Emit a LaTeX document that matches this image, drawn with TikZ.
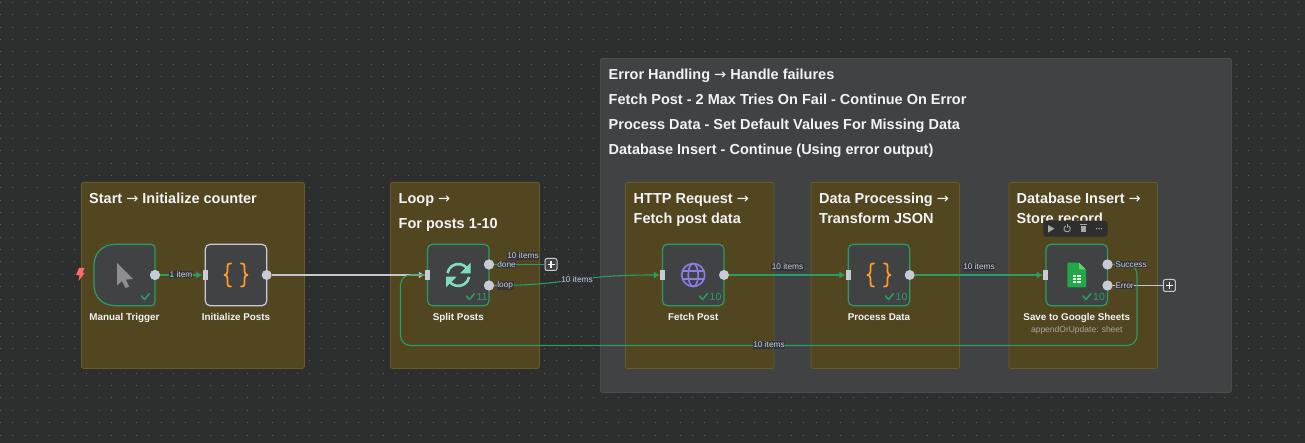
\documentclass[tikz,border=0pt]{standalone}
\usepackage{fontspec}
\setmainfont{Liberation Sans}
\newfontfamily\arrowfam{DejaVu Sans}
\usetikzlibrary{arrows.meta}
\definecolor{bgc}{HTML}{2D2E2E}
\definecolor{dotc}{HTML}{5C5D5D}
\definecolor{panelc}{HTML}{414244}
\definecolor{panelb}{HTML}{4A4B4D}
\definecolor{stickyc}{HTML}{524620}
\definecolor{stickyb}{HTML}{675A2C}
\definecolor{okc}{HTML}{2A9D63}
\definecolor{portc}{HTML}{C8CBD6}
\definecolor{wirec}{HTML}{C4C7D0}
\definecolor{txtc}{HTML}{F2F3F5}
\definecolor{subc}{HTML}{A9A8A0}
\definecolor{tagc}{HTML}{30323A}
\definecolor{orangec}{HTML}{FF9A26}
\definecolor{tealc}{HTML}{7FDCC2}
\definecolor{purplec}{HTML}{8B7DE8}
\definecolor{sheetc}{HTML}{22A74B}
\definecolor{boltc}{HTML}{FF6B6B}
\definecolor{cursorc}{HTML}{8E8E92}
\newcommand{\ra}{{\arrowfam\mdseries\symbol{"2192}}}
\tikzset{
  sticky/.style={fill=stickyc,draw=stickyb,line width=.8pt,rounded corners=2pt,anchor=north west,inner sep=0pt},
  ttl/.style={anchor=base west,text=txtc,inner sep=0pt,font=\fontsize{14.5}{16}\selectfont\bfseries},
  nodebox/.style={draw=okc,fill=panelc,line width=1.2pt,rounded corners=5pt,minimum width=61.5pt,minimum height=61.5pt,inner sep=0pt,anchor=center},
  outport/.style={circle,fill=portc,minimum size=10pt,inner sep=0pt},
  inport/.style={fill=portc,minimum width=5pt,minimum height=10pt,inner sep=0pt},
  nlabel/.style={text=txtc,inner sep=0pt,anchor=base,font=\fontsize{9.85}{11}\selectfont\bfseries},
  elabel/.style={fill=tagc,fill opacity=.85,text opacity=1,text=portc,inner sep=.6pt,font=\fontsize{8.3}{9}\selectfont},
  plabel/.style={elabel,anchor=west},
  count/.style={text=okc,inner sep=0pt,anchor=west,font=\fontsize{10.5}{11}\selectfont},
  okwire/.style={draw=okc,line width=1.1pt},
  whwire/.style={draw=wirec,line width=1.2pt},
  tipok/.style={-{Latex[length=6pt,width=7pt]}},
  plusbox/.style={draw=portc,fill=panelc,line width=1pt,rounded corners=2pt,minimum size=12pt,inner sep=0pt},
  tick/.style={draw=okc,line width=1.5pt,line cap=round,line join=round},
  brace/.style={draw=orangec,line width=1.8pt,line cap=round,line join=round},
  toolic/.style={fill=subc,draw=none}
}
\begin{document}
\begin{tikzpicture}[x=1pt,y=-1pt]
\useasboundingbox (0,0) rectangle (1305,443);
\fill[bgc] (0,0) rectangle (1305,443);
% dotted canvas
\foreach \i in {0,...,105}{\foreach \j in {0,...,35}{
  \fill[dotc] ({12.36*\i+.4-.5},{12.36*\j+2.4-.5}) rectangle ++(1,1);
}}
% panels
\node[sticky,fill=panelc,draw=panelb,minimum width=631pt,minimum height=334pt] (errpanel) at (600,58) {};
\node[sticky,minimum width=223pt,minimum height=186pt] (s1) at (81,182) {};
\node[sticky,minimum width=149pt,minimum height=186pt] (s2) at (390,182) {};
\node[sticky,minimum width=148.5pt,minimum height=186pt] (s3) at (625,182) {};
\node[sticky,minimum width=148.5pt,minimum height=186pt] (s4) at (810.5,182) {};
\node[sticky,minimum width=148.5pt,minimum height=186pt] (s5) at (1008.5,182) {};
% titles
\node[ttl] (t1) at (89,203.3) {Start \ra\ Initialize counter};
\node[ttl] (t2a) at (398.5,203.3) {Loop \ra};
\node[ttl] (t2b) at (398.5,228.3) {For posts 1-10};
\node[ttl] (t3a) at (633.5,203.3) {HTTP Request \ra};
\node[ttl] (t3b) at (633.5,223.3) {Fetch post data};
\node[ttl] (t4a) at (819,203.3) {Data Processing \ra};
\node[ttl] (t4b) at (819,223.3) {Transform JSON};
\node[ttl] (t5a) at (1016.5,203.3) {Database Insert \ra};
\node[ttl] (t5b) at (1016.5,223.3) {Store record};
\node[ttl] (e1) at (608.5,79.3) {Error Handling \ra\ Handle failures};
\node[ttl] (e2) at (608.5,104.3) {Fetch Post - 2 Max Tries On Fail - Continue On Error};
\node[ttl] (e3) at (608.5,129.3) {Process Data - Set Default Values For Missing Data};
\node[ttl] (e4) at (608.5,154.3) {Database Insert - Continue (Using error output)};
% node boxes
\node[nodebox,draw=none,fill=none] (trigger) at (124.5,275) {};
\fill[panelc,draw=okc,line width=1.2pt] (94,275) -- (94,265) .. controls (94,253) and (103,244.3) .. (115,244.3) -- (151,244.3) .. controls (153.5,244.3) and (155,246) .. (155,248) -- (155,302) .. controls (155,304.2) and (153.5,305.7) .. (151,305.7) -- (115,305.7) .. controls (103,305.7) and (94,297) .. (94,285) -- cycle;
\node[nodebox,draw=portc] (init) at (236,275) {};
\node[nodebox] (split) at (458.3,275) {};
\node[nodebox] (fetch) at (693.2,275) {};
\node[nodebox] (process) at (879,275) {};
\node[nodebox] (sheets) at (1076.8,275) {};
% ports
\node[outport] (trigO) at (155,275) {};
\node[outport] (initO) at (266.7,275) {};
\node[outport] (splitD) at (489,264.5) {};
\node[outport] (splitL) at (489,285.5) {};
\node[outport] (fetchO) at (724,275) {};
\node[outport] (procO) at (909.7,275) {};
\node[outport] (sheetS) at (1107.5,264.5) {};
\node[outport] (sheetE) at (1107.5,285.5) {};
\node[inport] (initI) at (205,275) {};
\node[inport] (splitI) at (427.5,275) {};
\node[inport] (fetchI) at (662.5,275) {};
\node[inport] (procI) at (848,275) {};
\node[inport] (sheetI) at (1045.5,275) {};
\node[plusbox] (plusA) at (551,264.5) {};
\node[plusbox] (plusB) at (1169.3,285.5) {};
% connectors
\draw[okwire,tipok] (trigO) -- (initI);
\draw[whwire,-{Latex[length=6pt,width=7pt]}] (initO) -- (splitI);
\draw[okwire] (splitD) -- (plusA);
\draw[okwire,tipok] (splitL) .. controls (570,285.5) and (570,275) .. (fetchI);
\draw[okwire,tipok] (fetchO) -- (procI);
\draw[okwire,tipok] (procO) -- (sheetI);
\draw[whwire] (sheetE) -- (plusB);
\draw[okwire,rounded corners=10pt] (sheetS) -- (1137,264.5) -- (1137,345.5) -- (400.5,345.5) -- (400.5,275) -- (splitI);
\node[outport] at (trigO) {};
\node[outport] at (splitD) {};
\node[outport] at (splitL) {};
\node[outport] at (sheetS) {};
\node[outport] at (sheetE) {};
\node[inport] at (splitI) {};
% plus signs
\draw[txtc,line width=1.1pt] (plusA.center) ++(-3.5,0) -- ++(7,0) (plusA.center) ++(0,-3.5) -- ++(0,7);
\draw[txtc,line width=1.1pt] (plusB.center) ++(-3.5,0) -- ++(7,0) (plusB.center) ++(0,-3.5) -- ++(0,7);
% connector labels
\node[elabel] (l1) at (181,274.5) {1 item};
\node[elabel] (l2) at (523,256) {10 items};
\node[elabel] (l3) at (577,280) {10 items};
\node[elabel] (l4) at (787.5,267) {10 items};
\node[elabel] (l5) at (979,267) {10 items};
\node[elabel] (l6) at (769,345) {10 items};
\node[plabel] (p1) at (496.5,264.5) {done};
\node[plabel] (p2) at (496.5,285.5) {loop};
\node[plabel] (p3) at (1114.5,264.5) {Success};
\node[plabel] (p4) at (1114.5,285.5) {Error};
% node labels
\node[nlabel] (n1) at (124.5,320) {Manual Trigger};
\node[nlabel] (n2) at (236,320) {Initialize Posts};
\node[nlabel] (n3) at (458.3,320) {Split Posts};
\node[nlabel] (n4) at (693.2,320) {Fetch Post};
\node[nlabel] (n5) at (879,320) {Process Data};
\node[nlabel] (n6) at (1076.8,320) {Save to Google Sheets};
\node[nlabel,text=subc,font=\fontsize{8.5}{10}\selectfont] (n7) at (1076.8,332.7) {appendOrUpdate: sheet};
% checks
\draw[tick] (141.5,296) -- (144.5,299.5) -- (149.5,293.5);
\draw[tick] (466.5,296) -- (469.5,299.5) -- (474.5,293.5);
\node[count] (c1) at (476.5,296.5) {11};
\draw[tick] (699.5,296) -- (702.5,299.5) -- (707.5,293.5);
\node[count] (c2) at (709.5,296.5) {10};
\draw[tick] (885.5,296) -- (888.5,299.5) -- (893.5,293.5);
\node[count] (c3) at (895.5,296.5) {10};
\draw[tick] (1083,296) -- (1086,299.5) -- (1091,293.5);
\node[count] (c4) at (1093,296.5) {10};
% trigger bolt
\fill[boltc] (79,268) -- (84.5,268) -- (82.5,272.5) -- (84.5,273) -- (78.5,281) -- (79.5,275.5) -- (76,275) -- cycle;
% cursor
\fill[cursorc] (117,263) -- (133,279) -- (125.8,279.6) -- (129.2,286.6) -- (125.4,288) -- (122,281) -- (117,285.5) -- cycle;
% braces
\foreach \cx in {236,879}{
\draw[brace] (\cx-5,263.5) .. controls (\cx-9,263.5) and (\cx-8.5,265) .. (\cx-8.5,268) -- (\cx-8.5,271.5) .. controls (\cx-8.5,274) and (\cx-10,275) .. (\cx-11.5,275) .. controls (\cx-10,275) and (\cx-8.5,276) .. (\cx-8.5,278.5) -- (\cx-8.5,282) .. controls (\cx-8.5,285) and (\cx-9,286.5) .. (\cx-5,286.5);
\draw[brace] (\cx+5,263.5) .. controls (\cx+9,263.5) and (\cx+8.5,265) .. (\cx+8.5,268) -- (\cx+8.5,271.5) .. controls (\cx+8.5,274) and (\cx+10,275) .. (\cx+11.5,275) .. controls (\cx+10,275) and (\cx+8.5,276) .. (\cx+8.5,278.5) -- (\cx+8.5,282) .. controls (\cx+8.5,285) and (\cx+9,286.5) .. (\cx+5,286.5);
}
% refresh icon
\draw[tealc,line width=2.6pt] (447.5,273.1) arc[start angle=-170,end angle=-40,radius=11];
\draw[tealc,line width=2.6pt] (469.1,276.9) arc[start angle=10,end angle=140,radius=11];
\fill[tealc] (470.7,262.7) -- (470.7,273.3) -- (460,273.3) -- cycle;
\fill[tealc] (446,287.3) -- (446,276.7) -- (456.7,276.7) -- cycle;
% globe icon
\begin{scope}[purplec,line width=1.6pt]
\draw (693.2,275) circle[radius=11.5];
\draw (693.2,275) ellipse[x radius=5,y radius=11.5];
\draw (682.5,271) -- (704,271) (682.5,279) -- (704,279);
\end{scope}
% sheets icon
\fill[sheetc,rounded corners=1pt] (1067.3,262.7) -- (1079,262.7) -- (1086,269.5) -- (1086,287.5) -- (1067.3,287.5) -- cycle;
\fill[green!70!black!60!white] (1079,262.7) -- (1086,269.5) -- (1079,269.5) -- cycle;
\fill[white!90!green] (1072.5,275) rectangle (1081,283);
\draw[sheetc,line width=.7pt] (1072.5,277.7) -- (1081,277.7) (1072.5,280.4) -- (1081,280.4) (1076.7,275) -- (1076.7,283);
% toolbar
\fill[bgc,rounded corners=3pt] (1043.3,220.7) rectangle (1107.5,236.7);
\fill[toolic] (1048,225) -- (1054.5,228.7) -- (1048,232.5) -- cycle;
\draw[subc,line width=.9pt] (1068.7,225.9) arc[start angle=-60,end angle=240,radius=3.2];
\draw[subc,line width=.9pt] (1067,224.5) -- (1067,228.5);
\fill[toolic] (1081,226) rectangle (1086,232.5);
\fill[toolic] (1080.3,224.5) rectangle (1086.8,225.5);
\foreach \dx in {1096.5,1099,1101.5}{\fill[toolic] (\dx,228.7) circle[radius=.8];}
\end{tikzpicture}
\end{document}
